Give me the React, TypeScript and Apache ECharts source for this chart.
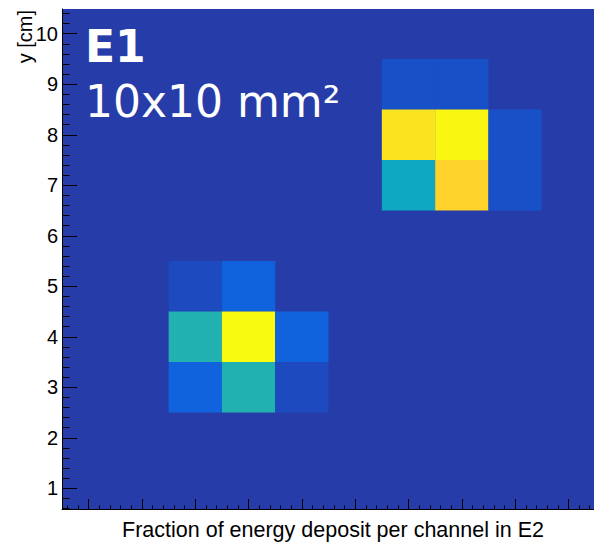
import React, { useEffect, useRef } from "react";
import * as echarts from "echarts";

// Channel grid (1 cm pitch) and the fraction of energy deposited in each lit channel
const cellX = [3, 4, 3, 4, 5, 3, 4, 5, 7, 8, 7, 8, 9, 7, 8, 9];
const cellY = [5, 5, 4, 4, 4, 3, 3, 3, 9, 9, 8, 8, 8, 7, 7, 7];
const cellFraction = [
  0.08, 0.145, 0.46, 1.0, 0.15, 0.15, 0.46, 0.08,
  0.095, 0.095, 0.94, 0.99, 0.095, 0.4, 0.9, 0.095,
];

const xTickValues = [1, 2, 3, 4, 5, 6, 7, 8, 9, 10];
const yTickValues = [1, 2, 3, 4, 5, 6, 7, 8, 9, 10];

const xTitle = "Fraction of energy deposit per channel in E2";
const yTitle = "y [cm]";
const detectorName = "E1";
const channelSize = "10x10 mm²";

// ROOT "kBird" palette stops
const birdPalette = [
  "#352a87", "#0f5cdd", "#1481d6", "#06a4ca", "#2eb7a4",
  "#87bf77", "#d1bb59", "#fec832", "#f9fb0e",
];

export default function App() {
  const ref = useRef<HTMLDivElement>(null);

  useEffect(() => {
    if (!ref.current) return;
    const chart = echarts.init(ref.current, null, { renderer: "svg" });
    const data = cellX.map((x, i) => [x, cellY[i], cellFraction[i]]);

    chart.setOption({
      animation: false,
      backgroundColor: "#ffffff",
      grid: {
        left: 62,
        top: 9,
        right: 0,
        bottom: 34,
        show: true,
        backgroundColor: "#263ca8",
        borderWidth: 0,
      },
      visualMap: {
        show: false,
        type: "continuous",
        min: 0,
        max: 1,
        dimension: 2,
        seriesIndex: 0,
        inRange: { color: birdPalette },
      },
      xAxis: {
        type: "value",
        min: 0.5,
        max: 10.48,
        splitNumber: 10,
        name: xTitle,
        nameLocation: "middle",
        nameGap: 10,
        nameTextStyle: {
          fontFamily: "Liberation Sans",
          fontSize: 21.5,
          color: "#000",
          padding: [0, 0, 0, 10],
        },
        axisLine: { show: true, lineStyle: { color: "#000", width: 1 } },
        axisTick: {
          show: true,
          inside: true,
          length: 10,
          customValues: xTickValues,
          lineStyle: { color: "#000", width: 1 },
        },
        minorTick: {
          show: true,
          splitNumber: 5,
          length: 3.5,
          lineStyle: { color: "#000", width: 1 },
        },
        axisLabel: { show: false },
        splitLine: { show: false },
        minorSplitLine: { show: false },
      },
      yAxis: {
        type: "value",
        min: 0.59,
        max: 10.49,
        splitNumber: 10,
        axisLine: { show: true, lineStyle: { color: "#000", width: 1 } },
        axisTick: {
          show: true,
          inside: true,
          length: 15,
          customValues: yTickValues,
          lineStyle: { color: "#000", width: 1 },
        },
        minorTick: {
          show: true,
          splitNumber: 5,
          length: 7.5,
          lineStyle: { color: "#000", width: 1 },
        },
        axisLabel: {
          show: true,
          margin: 4,
          customValues: yTickValues,
          fontFamily: "Liberation Sans",
          fontSize: 20,
          color: "#000",
        },
        splitLine: { show: false },
        minorSplitLine: { show: false },
      },
      series: [
        {
          type: "custom",
          data,
          encode: { x: 0, y: 1 },
          renderItem: (params: any, api: any) => {
            const x = api.value(0);
            const y = api.value(1);
            const p0 = api.coord([x - 0.5, y + 0.5]);
            const p1 = api.coord([x + 0.5, y - 0.5]);
            return {
              type: "rect",
              shape: {
                x: p0[0],
                y: p0[1],
                width: p1[0] - p0[0],
                height: p1[1] - p0[1],
              },
              style: { fill: api.visual("color") },
            };
          },
        },
      ],
      graphic: [
        {
          type: "text",
          x: 25,
          y: 10,
          rotation: Math.PI / 2,
          style: {
            text: yTitle,
            fontFamily: "Liberation Sans",
            fontSize: 20,
            fill: "#000",
            align: "right",
            verticalAlign: "middle",
          },
        },
        {
          type: "text",
          x: 85,
          y: 46.5,
          style: {
            text: detectorName,
            fontFamily: "DejaVu Sans",
            fontWeight: "bold",
            fontSize: 44,
            fill: "#ffffff",
            align: "left",
            verticalAlign: "middle",
          },
        },
        {
          type: "text",
          x: 85,
          y: 101.5,
          style: {
            text: channelSize,
            fontFamily: "DejaVu Sans",
            fontSize: 44,
            fill: "#ffffff",
            align: "left",
            verticalAlign: "middle",
          },
        },
      ],
    });

    return () => chart.dispose();
  }, []);

  return (
    <div
      ref={ref}
      style={{ position: "absolute", left: 0, top: 0, width: 594, height: 546 }}
    />
  );
}
